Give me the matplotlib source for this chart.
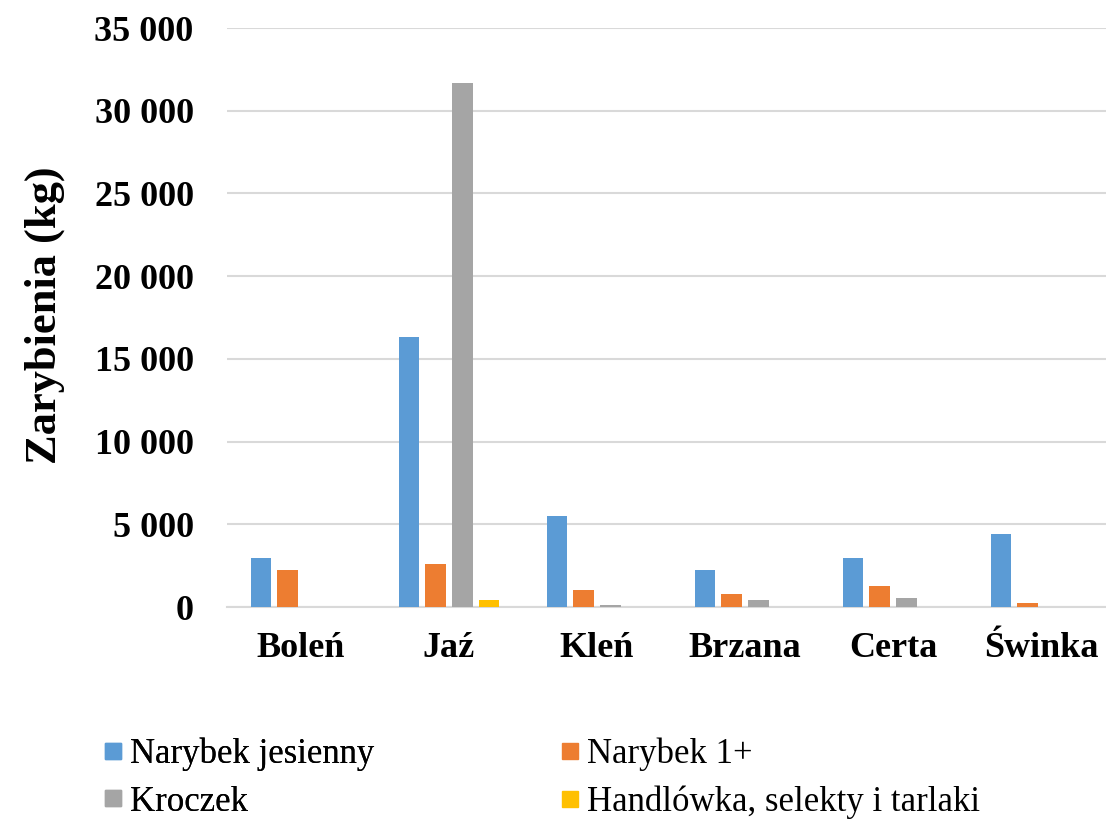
import matplotlib.pyplot as plt
import numpy as np
from matplotlib.lines import Line2D
from matplotlib.ticker import FuncFormatter

species = ["Boleń", "Jaź", "Kleń", "Brzana", "Certa", "Świnka"]
series_names = ["Narybek jesienny", "Narybek 1+", "Kroczek", "Handlówka, selekty i tarlaki"]
narybek_jesienny = [2950, 16350, 5500, 2230, 2950, 4420]
narybek_1 = [2230, 2580, 1050, 760, 1250, 270]
kroczek = [0, 31700, 130, 400, 520, 0]
handlowka = [0, 400, 0, 0, 0, 0]
colors = ["#5B9BD5", "#ED7D31", "#A5A5A5", "#FFC000"]

plt.rcParams["font.family"] = ["Liberation Serif", "DejaVu Serif"]

W, H = 1106, 822
fig = plt.figure(figsize=(W / 100, H / 100), dpi=100)
# axes extends a bit past right edge like the cropped original
ax = fig.add_axes([227 / W, 1 - 607 / H, 888 / W, 579 / H])

x = np.arange(len(species))
step = 0.18
width = 0.14
data = [narybek_jesienny, narybek_1, kroczek, handlowka]
for i, (vals, c) in enumerate(zip(data, colors)):
    ax.bar(x + (i - 1.5) * step, vals, width, color=c, zorder=3)

ax.set_xlim(-0.5, len(species) - 0.5)
ax.set_ylim(0, 35000)
ax.set_yticks(np.arange(0, 35001, 5000))
ax.yaxis.set_major_formatter(FuncFormatter(lambda v, p: f"{int(v):,}".replace(",", " ")))
ax.grid(axis="y", color="#D9D9D9", linewidth=1.5, zorder=0)
for s in ["top", "right", "left"]:
    ax.spines[s].set_visible(False)
ax.spines["bottom"].set_color("#D9D9D9")
ax.spines["bottom"].set_linewidth(1.5)
ax.tick_params(length=0)
ax.tick_params(axis="y", pad=24, labelsize=26)
ax.tick_params(axis="x", pad=18, labelsize=26)
ax.set_xticks(x)
ax.set_xticklabels(species)
for lab in ax.get_xticklabels() + ax.get_yticklabels():
    lab.set_fontweight("bold")

fig.text(45 / W, 1 - 315 / H, "Zarybienia (kg)", rotation=90, fontsize=32,
         fontweight="bold", ha="center", va="center")

handles = [Line2D([], [], marker="s", linestyle="none", markersize=11,
                  markerfacecolor=c, markeredgecolor=c) for c in colors]
leg_kw = dict(loc="center left", frameon=False, fontsize=25,
              handlelength=0.5, handletextpad=0.25, labelspacing=0.42,
              borderaxespad=0, borderpad=0)
leg1 = fig.legend([handles[0], handles[2]], [series_names[0], series_names[2]],
                  bbox_to_anchor=(104 / W, 1 - 778 / H), **leg_kw)
fig.add_artist(leg1)
fig.legend([handles[1], handles[3]], [series_names[1], series_names[3]],
           bbox_to_anchor=(561 / W, 1 - 778 / H), **leg_kw)

fig.savefig("out.png", dpi=100)
